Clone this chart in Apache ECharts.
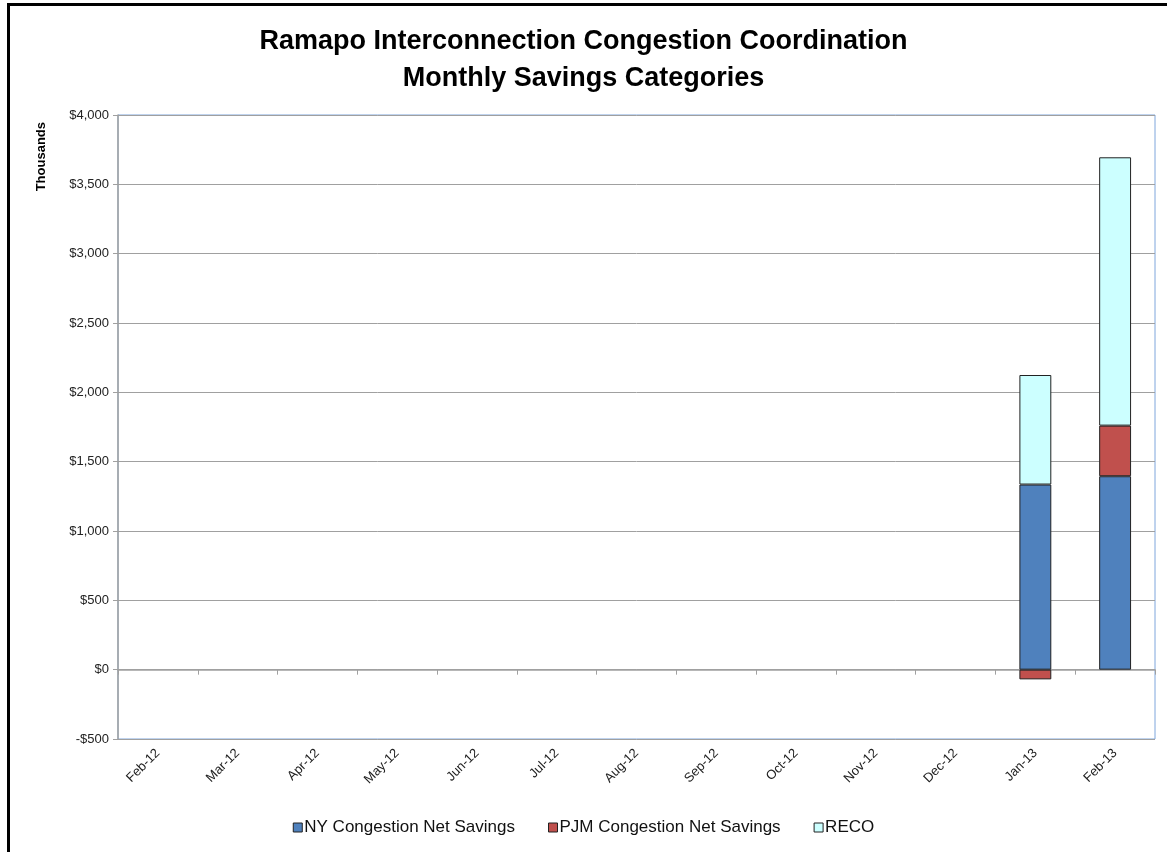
<!DOCTYPE html>
<html>
<head>
<meta charset="utf-8">
<script src="https://cdn.jsdelivr.net/npm/echarts@6/dist/echarts.min.js"></script>
<style>
    html, body { margin: 0; padding: 0; background: #fff; }
    #frame {
        position: absolute;
        left: 7px; top: 3px;
        width: 1170px; height: 900px;
        border-left: 3px solid #000;
        border-top: 3px solid #000;
    }
    #main { position: absolute; left: 0; top: 0; width: 1167px; height: 852px; }
</style>
</head>
<body>
<div id="frame"></div>
<div id="main"></div>
<script>
// 月份
var months = ['Feb-12', 'Mar-12', 'Apr-12', 'May-12', 'Jun-12', 'Jul-12', 'Aug-12',
    'Sep-12', 'Oct-12', 'Nov-12', 'Dec-12', 'Jan-13', 'Feb-13'];
// 各类节省 (千美元)
var nySavings = [null, null, null, null, null, null, null, null, null, null, null, 1335, 1395];
var pjmSavings = [null, null, null, null, null, null, null, null, null, null, null, -70, 365];
var recoSavings = [null, null, null, null, null, null, null, null, null, null, null, 790, 1935];
var yTicks = { min: -500, max: 4000, step: 500 };

var myChart = echarts.init(document.getElementById('main'));

function money(v) {
    var s = Math.abs(v).toString().replace(/\B(?=(\d{3})+(?!\d))/g, ',');
    return (v < 0 ? '-$' : '$') + s;
}

var barBorder = { borderColor: '#222', borderWidth: 1 };

var option = {
    backgroundColor: 'transparent',
    title: {
        text: 'Ramapo Interconnection Congestion Coordination\nMonthly Savings Categories',
        left: 'center',
        top: 18,
        textStyle: {
            fontFamily: 'Liberation Sans Narrow, Arial Narrow, sans-serif',
            fontSize: 27,
            fontWeight: 'bold',
            color: '#000',
            lineHeight: 37
        }
    },
    legend: {
        bottom: 11,
        left: 'center',
        itemWidth: 9,
        itemHeight: 9,
        itemGap: 33,
        icon: 'rect',
        textStyle: {
            fontFamily: 'Liberation Sans, Arial, sans-serif',
            fontSize: 17,
            color: '#111',
            padding: [0, 0, 0, -3]
        },
        itemStyle: { borderColor: '#222', borderWidth: 1 },
        data: ['NY Congestion Net Savings', 'PJM Congestion Net Savings', 'RECO']
    },
    grid: {
        left: 118,
        right: 12,
        top: 115,
        bottom: 113,
        show: true,
        borderColor: '#7ea6dc',
        borderWidth: 1
    },
    graphic: [{
        type: 'text',
        left: 35,
        top: 122,
        rotation: Math.PI / 2,
        style: {
            text: 'Thousands',
            font: 'bold 13px "Liberation Sans Narrow", Arial, sans-serif',
            fill: '#000'
        }
    }],
    xAxis: [{
        // 零线上的轴和刻度
        type: 'category',
        data: months,
        axisLine: { onZero: true, lineStyle: { color: '#a0a0a0', width: 1.5 } },
        axisTick: { show: true, length: 5, lineStyle: { color: '#a0a0a0' } },
        axisLabel: { show: false }
    }, {
        // 底部标签
        type: 'category',
        data: months,
        position: 'bottom',
        axisLine: { show: false, onZero: false },
        axisTick: { show: false },
        axisLabel: {
            interval: 0,
            rotate: 45,
            margin: 12,
            fontFamily: 'Liberation Sans, Arial, sans-serif',
            fontSize: 13,
            color: '#222'
        }
    }],
    yAxis: {
        type: 'value',
        min: yTicks.min,
        max: yTicks.max,
        interval: yTicks.step,
        axisLine: { show: true, lineStyle: { color: '#a0a0a0', width: 1.5 } },
        axisTick: { show: true, length: 5, lineStyle: { color: '#a0a0a0' } },
        splitLine: { show: true, lineStyle: { color: '#a0a0a0', width: 1 } },
        axisLabel: {
            formatter: money,
            fontFamily: 'Liberation Sans, Arial, sans-serif',
            fontSize: 13,
            color: '#222',
            margin: 9
        }
    },
    series: [{
        name: 'NY Congestion Net Savings',
        type: 'bar',
        stack: 'total',
        barWidth: '40%',
        xAxisIndex: 0,
        itemStyle: Object.assign({ color: '#4f81bd' }, barBorder),
        data: nySavings
    }, {
        name: 'PJM Congestion Net Savings',
        type: 'bar',
        stack: 'total',
        barWidth: '40%',
        xAxisIndex: 0,
        itemStyle: Object.assign({ color: '#c0504d' }, barBorder),
        data: pjmSavings
    }, {
        name: 'RECO',
        type: 'bar',
        stack: 'total',
        barWidth: '40%',
        xAxisIndex: 0,
        itemStyle: Object.assign({ color: '#ccffff' }, barBorder),
        data: recoSavings
    }]
};
myChart.setOption(option);
</script>
</body>
</html>
